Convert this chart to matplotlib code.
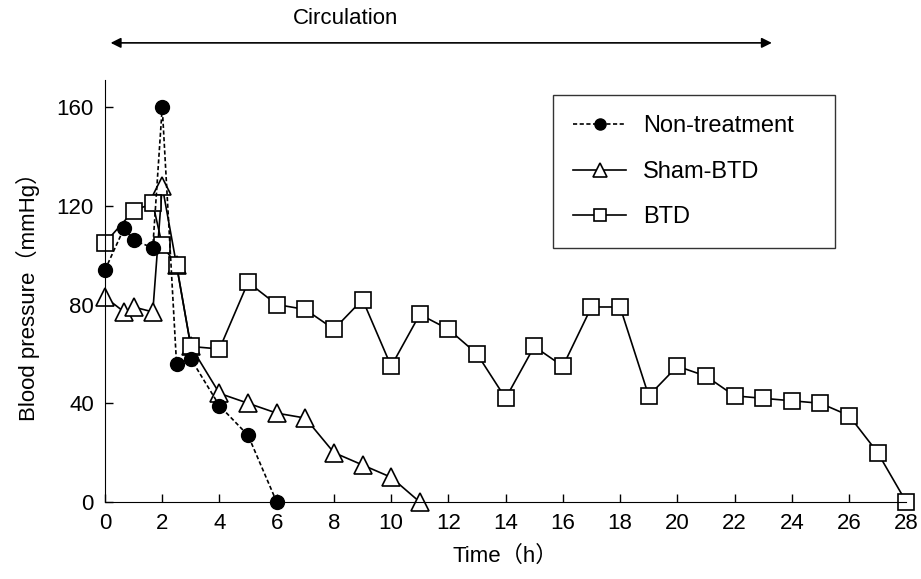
import matplotlib
matplotlib.use("Agg")
import matplotlib.pyplot as plt

plt.rcParams["font.family"] = ["Liberation Sans", "Noto Sans CJK JP"]

# Non-treatment
non_t = [0, 0.67, 1, 1.67, 2, 2.5, 3, 4, 5, 6]
non_bp = [94, 111, 106, 103, 160, 56, 58, 39, 27, 0]

# Sham-BTD
sham_t = [0, 0.67, 1, 1.67, 2, 2.5, 3, 4, 5, 6, 7, 8, 9, 10, 11]
sham_bp = [83, 77, 79, 77, 128, 96, 63, 44, 40, 36, 34, 20, 15, 10, 0]

# BTD
btd_t = [0, 1, 1.67, 2, 2.5, 3, 4, 5, 6, 7, 8, 9, 10, 11, 12, 13, 14, 15,
         16, 17, 18, 19, 20, 21, 22, 23, 24, 25, 26, 27, 28]
btd_bp = [105, 118, 121, 104, 96, 63, 62, 89, 80, 78, 70, 82, 55, 76, 70, 60,
          42, 63, 55, 79, 79, 43, 55, 51, 43, 42, 41, 40, 35, 20, 0]

fig = plt.figure(figsize=(9.21, 5.79), dpi=100)
ax = fig.add_axes([0.114, 0.133, 0.870, 0.729])

ax.plot(non_t, non_bp, linestyle=(0, (2.5, 1.5)), color="black", lw=1.2,
        marker="o", markersize=10, markerfacecolor="black",
        label="Non-treatment", clip_on=False, zorder=3)
ax.plot(sham_t, sham_bp, linestyle="-", color="black", lw=1.2,
        marker="^", markersize=13, markerfacecolor="white", markeredgewidth=1.2,
        label="Sham-BTD", clip_on=False, zorder=2)
ax.plot(btd_t, btd_bp, linestyle="-", color="black", lw=1.2,
        marker="s", markersize=11.5, markerfacecolor="white", markeredgewidth=1.2,
        label="BTD", clip_on=False, zorder=2)

ax.set_xlim(0, 28)
ax.set_ylim(0, 171)
ax.set_xticks(range(0, 29, 2))
ax.set_yticks([0, 40, 80, 120, 160])
ax.tick_params(direction="in", labelsize=16, length=6, width=1, pad=8)
ax.spines["top"].set_visible(False)
ax.spines["right"].set_visible(False)
ax.set_xlabel("Time（h）", fontsize=16, labelpad=8)
ax.set_ylabel("Blood pressure（mmHg）", fontsize=16, labelpad=12)

leg = ax.legend(loc="upper left", bbox_to_anchor=(0.559, 0.6, 0.352, 0.364),
                mode="expand", frameon=True,
                fancybox=False, edgecolor="black", fontsize=17,
                handlelength=2.25, labelspacing=1.0, borderpad=0.85,
                handletextpad=0.7, borderaxespad=0, markerscale=0.8)
leg.get_frame().set_linewidth(1.0)

ax.annotate("", xy=(0.1, 186), xytext=(23.4, 186), xycoords="data",
            arrowprops=dict(arrowstyle="<|-|>", color="black", lw=1.2,
                            mutation_scale=15), annotation_clip=False)
ax.text(8.4, 196, "Circulation", ha="center", va="center", fontsize=16)

fig.savefig("out.png", dpi=100)
